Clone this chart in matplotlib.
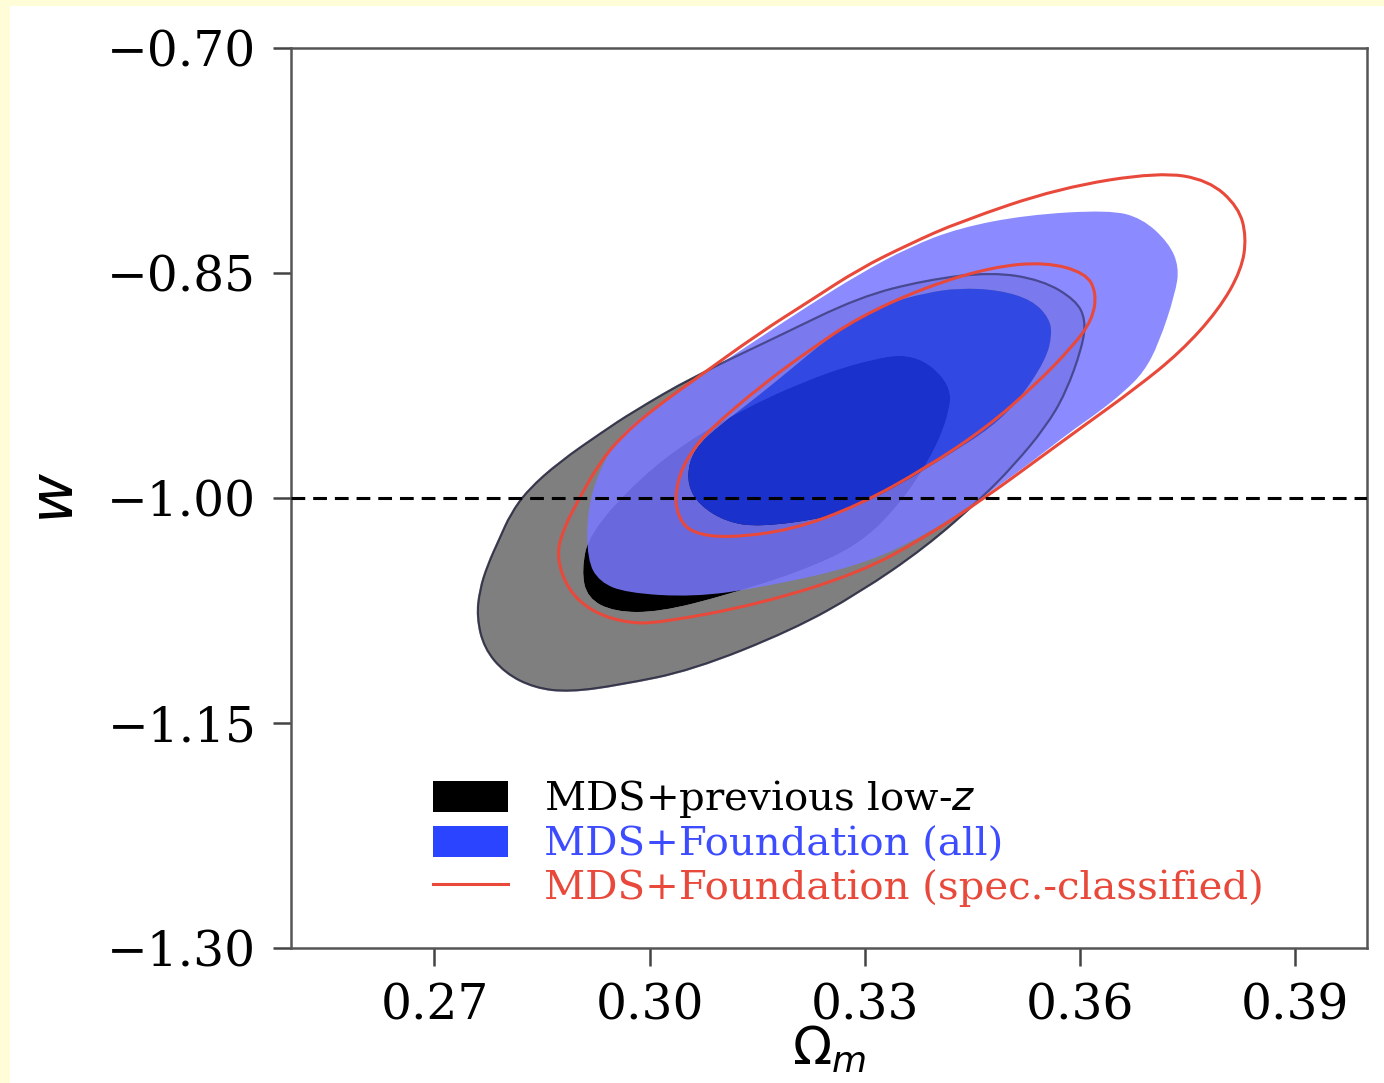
import numpy as np
import matplotlib
matplotlib.use("Agg")
import matplotlib.pyplot as plt
from matplotlib.path import Path
from matplotlib.patches import PathPatch, Patch, Rectangle
from matplotlib.lines import Line2D

plt.rcParams["font.family"] = "DejaVu Serif"
plt.rcParams["mathtext.fontset"] = "dejavusans"

# contour outlines: (Omega_m, w)
black_95_x = [0.2759, 0.2763, 0.2774, 0.2791, 0.2806, 0.2830, 0.2874, 0.2934, 0.2976, 0.3060,
              0.3177, 0.3292, 0.3385, 0.3477, 0.3547, 0.3594, 0.3608, 0.3603, 0.3580, 0.3552,
              0.3508, 0.3463, 0.3385, 0.3292, 0.3199, 0.3060, 0.2958, 0.2888, 0.2840, 0.2798,
              0.2769]
black_95_y = [-1.0793, -1.0613, -1.0447, -1.0267, -1.0107, -0.9947, -0.9760, -0.9560, -0.9427, -0.9193,
              -0.8927, -0.8660, -0.8547, -0.8493, -0.8547, -0.8680, -0.8813, -0.8993, -0.9300, -0.9527,
              -0.9780, -1.0000, -1.0327, -1.0633, -1.0880, -1.1147, -1.1247, -1.1293, -1.1267, -1.1167,
              -1.1000]

black_68_x = [0.3422, 0.3415, 0.3390, 0.3348, 0.3292, 0.3209, 0.3107, 0.3014, 0.2951, 0.2913,
              0.2905, 0.2916, 0.2986, 0.3055, 0.3129, 0.3209, 0.3292, 0.3369]
black_68_y = [-0.9247, -0.9480, -0.9747, -1.0047, -1.0313, -1.0493, -1.0647, -1.0760, -1.0760, -1.0667,
              -1.0480, -1.0233, -0.9867, -0.9613, -0.9413, -0.9233, -0.9093, -0.9027]

blue_95_x = [0.2930, 0.2913, 0.2913, 0.2930, 0.2958, 0.3000, 0.3069, 0.3153, 0.3223, 0.3292,
             0.3362, 0.3431, 0.3525, 0.3640, 0.3686, 0.3724, 0.3738, 0.3733, 0.3710, 0.3689,
             0.3661, 0.3626, 0.3584, 0.3536, 0.3469, 0.3385, 0.3292, 0.3153, 0.3060, 0.2968]
blue_95_y = [-1.0560, -1.0413, -1.0080, -0.9813, -0.9580, -0.9413, -0.9200, -0.8933, -0.8713, -0.8507,
             -0.8327, -0.8200, -0.8113, -0.8080, -0.8133, -0.8300, -0.8460, -0.8633, -0.8967, -0.9160,
             -0.9293, -0.9427, -0.9567, -0.9747, -0.9980, -1.0247, -1.0453, -1.0600, -1.0660, -1.0633]

blue_68_x = [0.3053, 0.3055, 0.3069, 0.3097, 0.3153, 0.3199, 0.3246, 0.3292, 0.3338, 0.3385,
             0.3431, 0.3487, 0.3533, 0.3557, 0.3561, 0.3552, 0.3515, 0.3477, 0.3417, 0.3348,
             0.3292, 0.3246, 0.3153, 0.3107, 0.3069]
blue_68_y = [-0.9913, -0.9760, -0.9640, -0.9520, -0.9313, -0.9133, -0.8947, -0.8793, -0.8693, -0.8633,
             -0.8600, -0.8613, -0.8680, -0.8800, -0.8913, -0.9080, -0.9347, -0.9527, -0.9713, -0.9913,
             -1.0047, -1.0133, -1.0193, -1.0160, -1.0047]

red_95_x = [0.2870, 0.2879, 0.2902, 0.2930, 0.2961, 0.3007, 0.3060, 0.3153, 0.3223, 0.3292,
            0.3362, 0.3431, 0.3571, 0.3710, 0.3779, 0.3821, 0.3832, 0.3825, 0.3793, 0.3740,
            0.3678, 0.3601, 0.3536, 0.3469, 0.3385, 0.3292, 0.3153, 0.3014, 0.2968, 0.2920,
            0.2886]
red_95_y = [-1.0393, -1.0213, -1.0000, -0.9767, -0.9587, -0.9400, -0.9220, -0.8900, -0.8687, -0.8473,
            -0.8307, -0.8160, -0.7933, -0.7827, -0.7880, -0.8060, -0.8260, -0.8480, -0.8747, -0.9027,
            -0.9267, -0.9533, -0.9760, -0.9993, -1.0260, -1.0500, -1.0707, -1.0833, -1.0833, -1.0760,
            -1.0613]

red_68_x = [0.3035, 0.3042, 0.3060, 0.3083, 0.3153, 0.3223, 0.3292, 0.3385, 0.3477, 0.3552,
            0.3608, 0.3623, 0.3617, 0.3589, 0.3536, 0.3469, 0.3385, 0.3292, 0.3199, 0.3107,
            0.3060, 0.3042]
red_68_y = [-1.0013, -0.9833, -0.9680, -0.9547, -0.9260, -0.9013, -0.8793, -0.8593, -0.8460, -0.8427,
            -0.8500, -0.8633, -0.8813, -0.8993, -0.9253, -0.9533, -0.9800, -1.0047, -1.0213, -1.0267,
            -1.0233, -1.0147]

w_ref = -1.0
x_ticks = [0.27, 0.30, 0.33, 0.36, 0.39]
y_ticks = [-0.70, -0.85, -1.00, -1.15, -1.30]
labels = ["MDS+previous low-$z$", "MDS+Foundation (all)", "MDS+Foundation (spec.-classified)"]

RED = "#e8493b"
BLUE_TEXT = "#3e4cff"


def smooth_path(xs, ys, reverse=False):
    # closed smooth outline: read points used as quadratic Bezier control points
    pts = np.column_stack([xs, ys])
    if reverse:
        pts = pts[::-1]
    mids = (pts + np.roll(pts, -1, axis=0)) / 2
    verts = [mids[-1]]
    codes = [Path.MOVETO]
    for p, m in zip(pts, mids):
        verts += [p, m]
        codes += [Path.CURVE3, Path.CURVE3]
    verts.append(mids[-1])
    codes.append(Path.CLOSEPOLY)
    return Path(verts, codes)


def ring(outer, inner):
    return Path.make_compound_path(smooth_path(*outer), smooth_path(*inner, reverse=True))


fig = plt.figure(figsize=(13.84, 10.83), dpi=100, facecolor="#fffcd8")
fig.patches.append(Rectangle((10 / 1384, 0), 1, 1 - 6 / 1083, transform=fig.transFigure,
                             facecolor="white", edgecolor="none", zorder=-5))
ax = fig.add_axes([291 / 1384, 135 / 1083, 1076 / 1384, 900 / 1083])

# black: outer band translucent, inner solid
ax.add_patch(PathPatch(ring((black_95_x, black_95_y), (black_68_x, black_68_y)),
                       facecolor=(0, 0, 0, 0.5), edgecolor="none", zorder=1))
ax.add_patch(PathPatch(smooth_path(black_68_x, black_68_y), facecolor="black",
                       edgecolor="none", zorder=1))
ax.add_patch(PathPatch(smooth_path(black_95_x, black_95_y), fill=False,
                       edgecolor=(0.2, 0.2, 0.2, 0.8), lw=1.4, zorder=1.5))

# blue
ax.add_patch(PathPatch(ring((blue_95_x, blue_95_y), (blue_68_x, blue_68_y)),
                       facecolor=(122 / 255, 122 / 255, 1.0, 0.87), edgecolor="none", zorder=2))
ax.add_patch(PathPatch(smooth_path(blue_68_x, blue_68_y),
                       facecolor=(33 / 255, 60 / 255, 250 / 255, 0.82), edgecolor="none", zorder=2))
# black 95% outline shows through the blue
ax.add_patch(PathPatch(smooth_path(black_95_x, black_95_y), fill=False,
                       edgecolor=(0.15, 0.15, 0.3, 0.55), lw=1.6, zorder=2.5))

# red lines
for xs, ys in [(red_95_x, red_95_y), (red_68_x, red_68_y)]:
    ax.add_patch(PathPatch(smooth_path(xs, ys), fill=False, edgecolor=RED, lw=2.2, zorder=3))

ax.axhline(w_ref, color="black", lw=2.2, ls=(0, (4.5, 2.6)), zorder=4)

ax.set_xlim(0.25, 0.40)
ax.set_ylim(-1.30, -0.70)
ax.set_xticks(x_ticks)
ax.set_yticks(y_ticks)
ax.set_xticklabels([f"{t:.2f}" for t in x_ticks])
ax.set_yticklabels([f"{t:.2f}".replace("-", "\u2212") for t in y_ticks])
ax.tick_params(labelsize=35, length=13, width=1.8, color="#444444", pad=12)
for s in ax.spines.values():
    s.set_color("#555555")
    s.set_linewidth(1.8)

ax.set_xlabel(r"$\Omega_m$", fontsize=37, labelpad=-4)
ax.set_ylabel(r"$w$", fontsize=44, labelpad=15)

handles = [Patch(facecolor="black", edgecolor="none"),
           Patch(facecolor="#2b44ff", edgecolor="none"),
           Line2D([], [], color=RED, lw=2.2)]
leg = ax.legend(handles, labels, loc="center left", bbox_to_anchor=(0.132, 0.117),
                frameon=False, fontsize=29, borderpad=0, borderaxespad=0,
                handlelength=1.85, handleheight=0.82, handletextpad=0.9, labelspacing=0.14)
for txt, c in zip(leg.get_texts(), ["black", BLUE_TEXT, RED]):
    txt.set_color(c)

fig.savefig("out.png", dpi=100, facecolor=fig.get_facecolor())
